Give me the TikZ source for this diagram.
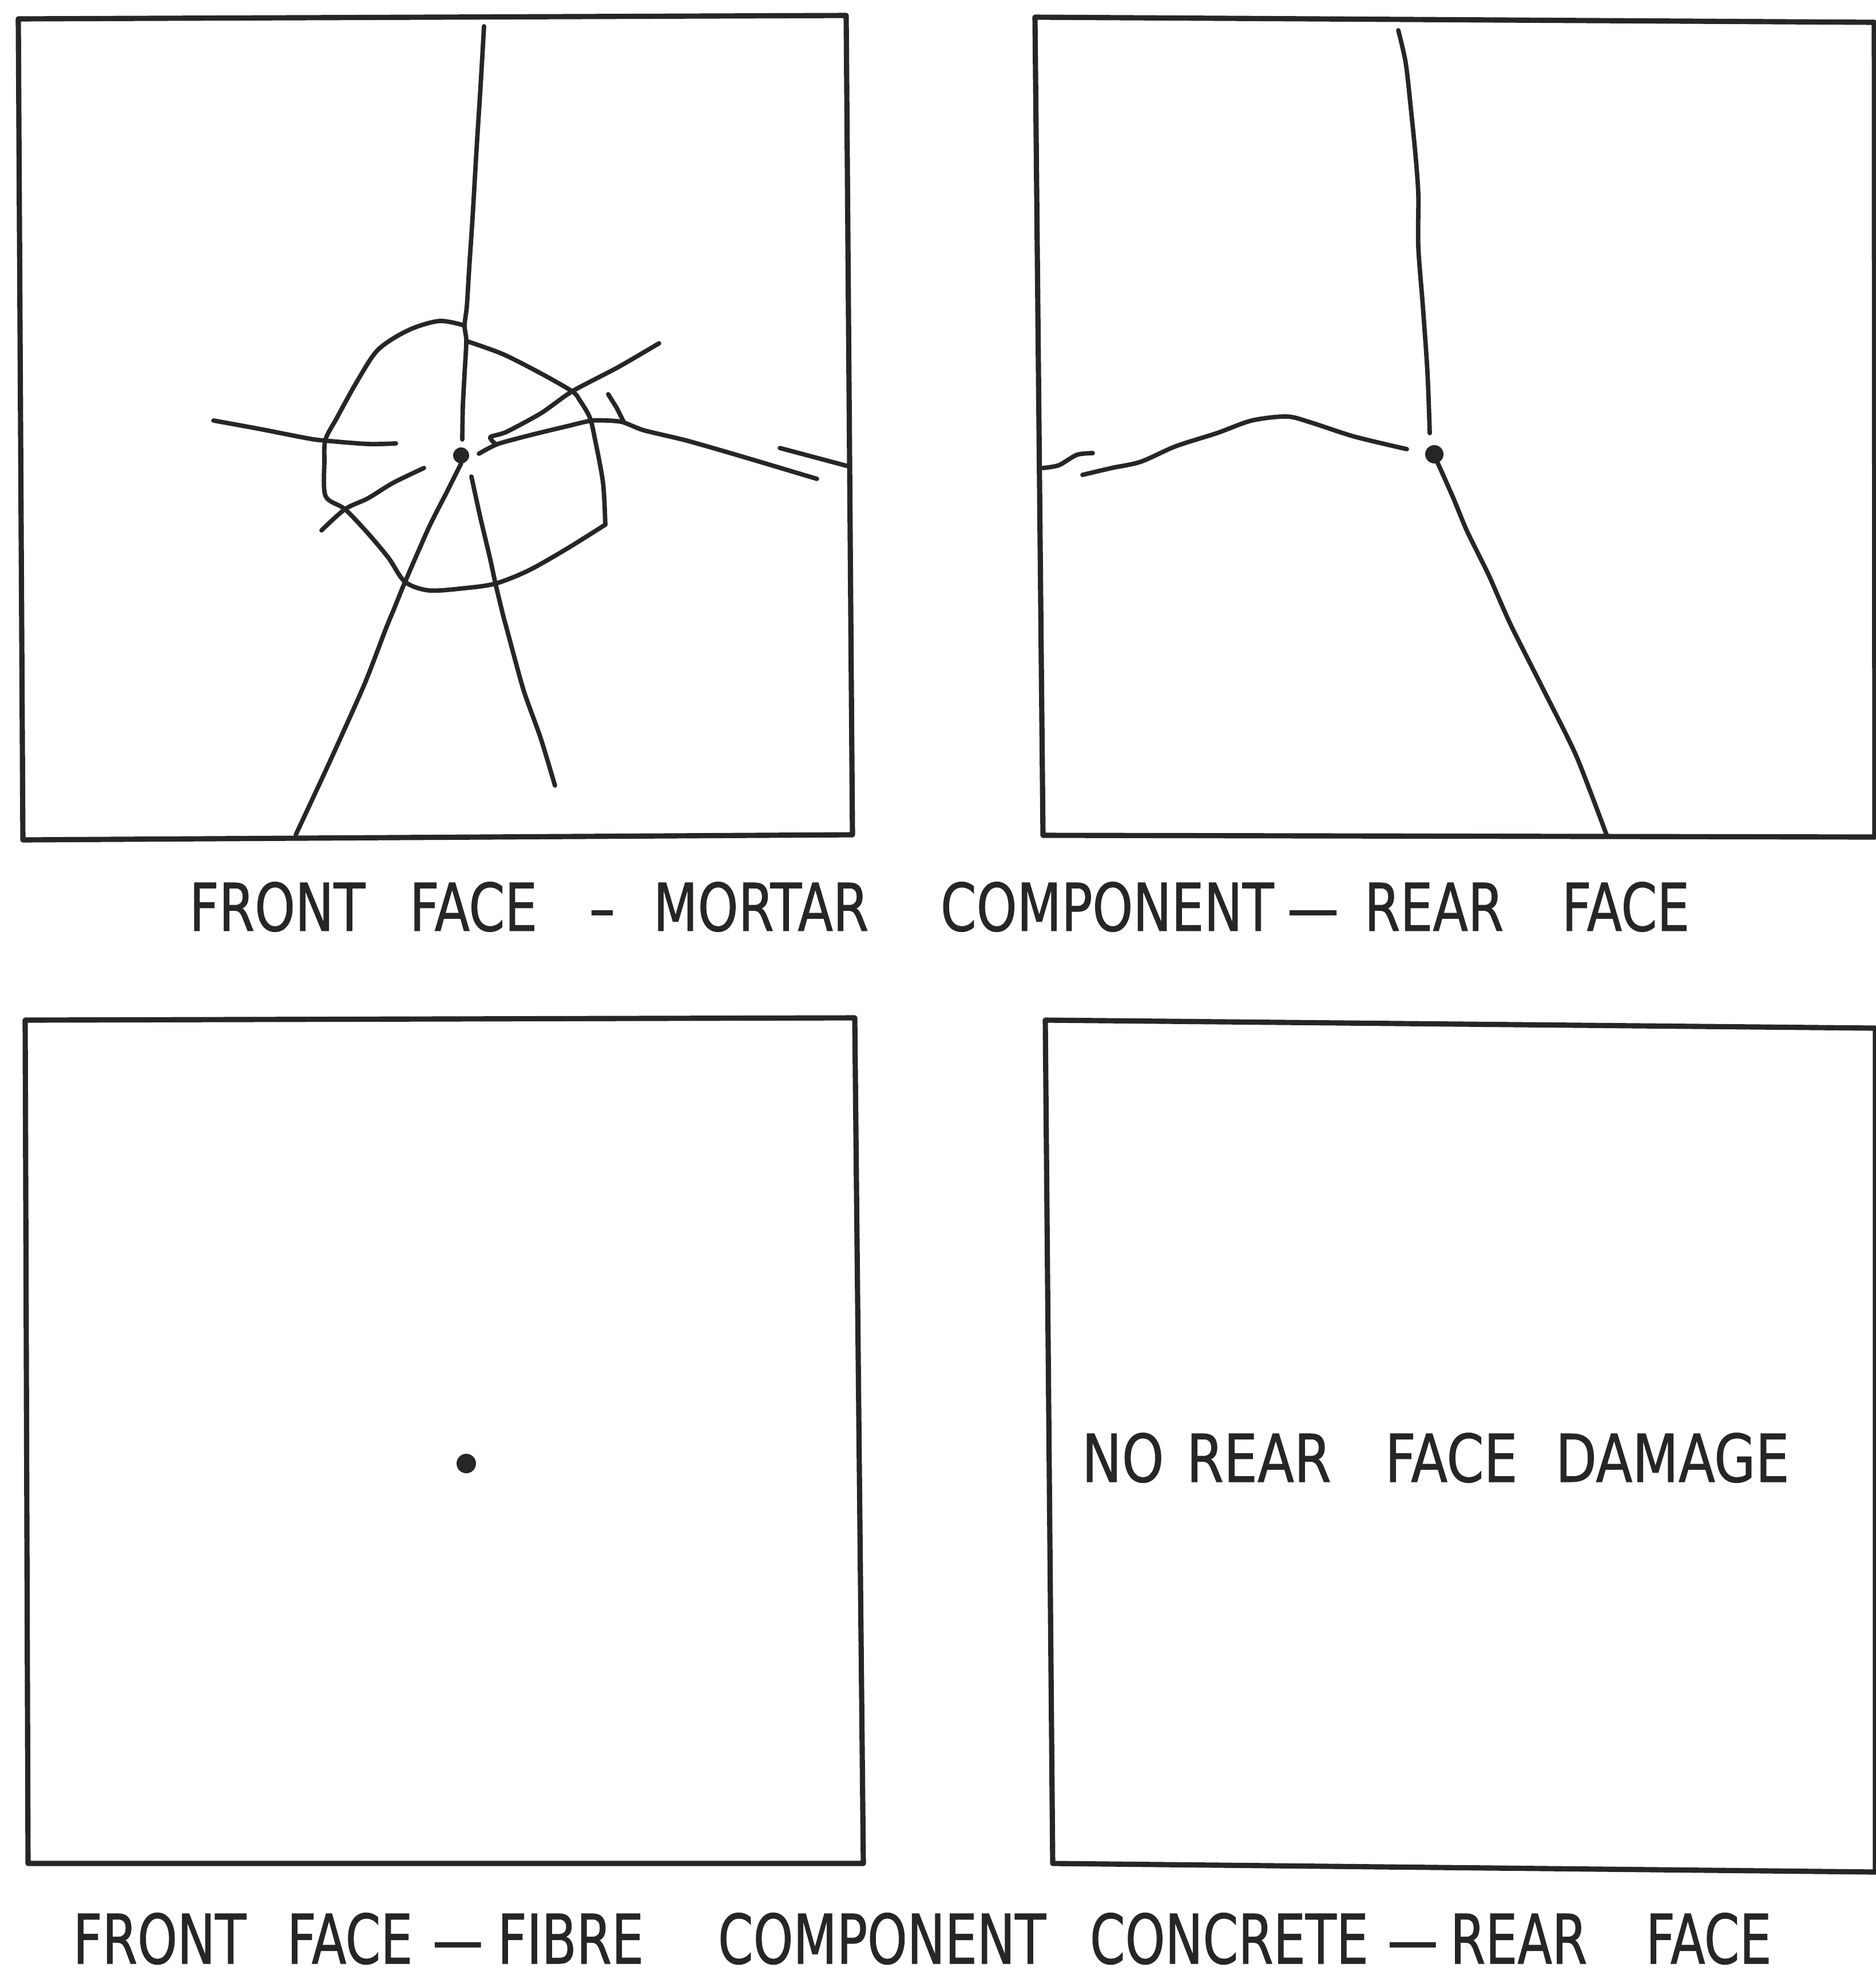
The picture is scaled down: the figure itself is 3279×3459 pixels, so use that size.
\documentclass[tikz,border=0pt]{standalone}
\usepackage{fontspec}
\newfontfamily\capsA[FakeStretch=0.78, FakeBold=0.8]{DejaVu Sans}
\newfontfamily\capsB[FakeStretch=0.74, FakeBold=0.8]{DejaVu Sans}
\newfontfamily\capsC[FakeStretch=0.81, FakeBold=0.8]{DejaVu Sans}
\definecolor{ink}{HTML}{262626}
\begin{document}
\begin{tikzpicture}[x=0.01cm, y=-0.01cm,
  panel/.style={draw=ink, line width=2.6pt, line join=round},
  crack/.style={draw=ink, line width=2.2pt, line cap=round, line join=round},
  hole/.style={fill=ink},
  wordA/.style={inner sep=0pt, outer sep=0pt, anchor=base west, text=ink, font=\capsA\fontsize{32.8}{38}\selectfont},
  wordB/.style={inner sep=0pt, outer sep=0pt, anchor=base west, text=ink, font=\capsB\fontsize{34}{40}\selectfont},
  wordC/.style={inner sep=0pt, outer sep=0pt, anchor=base west, text=ink, font=\capsC\fontsize{32.8}{38}\selectfont}]
\useasboundingbox (0,0) rectangle (3279,3459);
\fill[white] (0,0) rectangle (3279,3459);

% ---------- mortar component, front face ----------
\draw[panel] (32,33) -- (1479,27) -- (1490,1459) -- (40,1468) -- cycle;
% main vertical crack
\draw[crack] plot[smooth, tension=0.5] coordinates {(846,46) (840,150) (833,260) (826,380) (820,470) (816,535) (812,569) (815,596) (812,653) (809,710) (808,768)};
% spall ring around the impact point
\draw[crack] plot[smooth, tension=0.5] coordinates {(812,569) (768,561) (714,577) (661,611) (625,665) (589,730) (569,768) (567,806) (569,867) (603,890) (643,932) (679,975) (708,1017) (750,1032) (812,1028) (866,1020) (924,997) (991,959) (1058,917)};
\draw[crack] plot[smooth, tension=0.5] coordinates {(1058,917) (1054,844) (1040,768) (1031,730) (1013,699) (1000,684) (946,653) (879,619) (815,596)};
% radial cracks
\draw[crack] plot[smooth, tension=0.5] coordinates {(373,735) (450,749) (537,766) (567,770) (643,776) (692,775)};
\draw[crack] plot[smooth, tension=0.5] coordinates {(741,818) (687,844) (643,871) (603,890) (562,927)};
\draw[crack] plot[smooth, tension=0.4] coordinates {(806,810) (781,860) (750,921) (708,1017) (688,1066) (674,1100) (637,1196) (577,1330) (517,1459)};
\draw[crack] plot[smooth, tension=0.4] coordinates {(824,833) (839,902) (857,978) (866,1020) (879,1074) (886,1100) (915,1206) (945,1290) (970,1373)};
\draw[crack] plot[smooth, tension=0.4] coordinates {(1152,600) (1080,642) (1000,684) (946,722) (885,755) (857,764) (866,776)};
\draw[crack] plot[smooth, tension=0.4] coordinates {(837,793) (870,776) (929,760) (991,745) (1036,735) (1085,737) (1125,752) (1200,770) (1294,797) (1428,837)};
\draw[crack] (1063,689) -- (1078,713) -- (1090,737);
\draw[crack] (1363,783) -- (1483,815);
\fill[hole] (806,796) circle (14);

% ---------- mortar component, rear face ----------
\draw[panel] (1809,30) -- (3276,39) -- (3277,1463) -- (1823,1460) -- cycle;
\draw[crack] plot[smooth, tension=0.5] coordinates {(2444,53) (2457,110) (2466,190) (2474,270) (2479,340) (2479,431) (2487,536) (2495,651) (2499,757)};
\draw[crack] plot[smooth, tension=0.4] coordinates {(2512,807) (2540,870) (2564,928) (2602,1005) (2640,1091) (2698,1206) (2755,1321) (2808,1459)};
\draw[crack] plot[smooth, tension=0.5] coordinates {(2459,785) (2367,763) (2290,738) (2249,728) (2188,735) (2127,757) (2055,780) (1994,807) (1943,818) (1892,830)};
\draw[crack] plot[smooth, tension=0.5] coordinates {(1823,818) (1851,813) (1882,795) (1910,792)};
\fill[hole] (2507,794) circle (16);

% ---------- fibre component concrete, front face ----------
\draw[panel] (44,1783) -- (1494,1779) -- (1509,3257) -- (49,3257) -- cycle;
\fill[hole] (815,2558) circle (17);

% ---------- fibre component concrete, rear face ----------
\draw[panel] (1827,1783) -- (3278,1797) -- (3278,3272) -- (1840,3257) -- cycle;

% ---------- captions ----------
\foreach \px/\w [count=\i] in {331/FRONT, 716/FACE, 1030/–, 1142/MORTAR, 1644/COMPONENT, 2250/—, 2385/REAR, 2730/FACE}
  \node[wordA] (cap1w\i) at (\px,1627) {\w};

\foreach \px/\w [count=\i] in {128/FRONT, 502/FACE, 756/—, 870/FIBRE, 1255/COMPONENT, 1905/CONCRETE, 2425/—, 2535/REAR, 2877/FACE}
  \node[wordB] (cap2w\i) at (\px,3432) {\w};

\foreach \px/\w [count=\i] in {1891/NO, 2074/REAR, 2421/FACE, 2719/DAMAGE}
  \node[wordC] (notew\i) at (\px,2590) {\w};
\end{tikzpicture}
\end{document}
